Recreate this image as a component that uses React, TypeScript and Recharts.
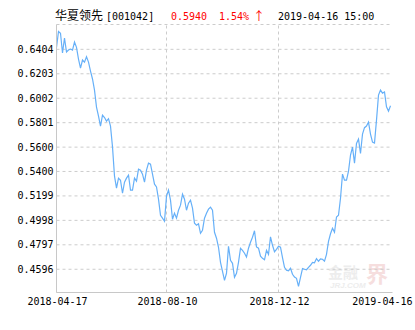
import { LineChart, Line, XAxis, YAxis, CartesianGrid, ReferenceLine } from "recharts";

// unit NAV, 2018-04-17 .. 2019-04-16 (sampled)
const nav = [
  0.642, 0.6551, 0.6536, 0.6374, 0.6497, 0.6382, 0.6398, 0.6406, 0.6398, 0.6464,
  0.642, 0.6324, 0.625, 0.6316, 0.6299, 0.6343, 0.6299, 0.6225, 0.616, 0.6069,
  0.5929, 0.5855, 0.5773, 0.5863, 0.5843, 0.5814, 0.5834, 0.5773, 0.5602, 0.5361,
  0.5263, 0.5345, 0.5328, 0.5221, 0.5312, 0.5345, 0.5369, 0.5246, 0.5246, 0.5345,
  0.532, 0.5419, 0.5411, 0.5378, 0.5312, 0.5411, 0.5468, 0.546, 0.5378, 0.5295,
  0.5273, 0.5172, 0.504, 0.5016, 0.4991, 0.5197, 0.5246, 0.5164, 0.5007, 0.5057,
  0.5016, 0.5081, 0.5123, 0.5213, 0.5172, 0.5081, 0.5139, 0.5164, 0.5098, 0.4974,
  0.4958, 0.497, 0.4892, 0.4917, 0.5016, 0.5057, 0.509, 0.5106, 0.5081, 0.49,
  0.4851, 0.4777, 0.4653, 0.4579, 0.4505, 0.4563, 0.4785, 0.467, 0.4645, 0.453,
  0.4563, 0.4653, 0.4769, 0.4752, 0.4728, 0.4697, 0.4769, 0.4818, 0.4859, 0.4913,
  0.4779, 0.4769, 0.4703, 0.4686, 0.4674, 0.4752, 0.4719, 0.4863, 0.4793, 0.474,
  0.476, 0.4785, 0.4777, 0.4691, 0.4612, 0.4588, 0.4584, 0.4604, 0.4555, 0.4532,
  0.4522, 0.4456, 0.453, 0.4602, 0.4596, 0.4592, 0.4612, 0.4629, 0.4653, 0.4649,
  0.4684, 0.4662, 0.4682, 0.4678, 0.4662, 0.4719, 0.4826, 0.4888, 0.4933, 0.49,
  0.5026, 0.504, 0.518, 0.5378, 0.5328, 0.5328, 0.5402, 0.5534, 0.56, 0.5468,
  0.563, 0.5666, 0.5548, 0.5707, 0.576, 0.5773, 0.5806, 0.5707, 0.5641, 0.5633,
  0.5822, 0.6028, 0.6069, 0.6044, 0.6053, 0.5932, 0.5896, 0.594,
];

const yTicks = [0.4596, 0.4797, 0.4998, 0.5199, 0.54, 0.56, 0.5801, 0.6002, 0.6203, 0.6404];
const xTickIndex = [0, 55, 111, 166];
const xTickLabels = ["2018-04-17", "2018-08-10", "2018-12-12", "2019-04-16"];

const fundName = "华夏领先";
const fundCode = "[001042]";
const lastValue = "0.5940";
const change = "1.54%";
const stamp = "2019-04-16 15:00";

const data = nav.map((v, i) => ({ i, v }));

const MONO = "'DejaVu Sans Mono', monospace";
const BORDER = "#c8c8c8";
const tickStyle = { fontFamily: MONO, fontSize: 10, fill: "#000" };

// last date label is pulled inside the frame, like the original
const DateTick = ({ x, y, payload, index }: any) => {
  const last = index === xTickIndex.length - 1;
  return (
    <text
      x={last ? x + 24 : x + 1}
      y={y}
      dy="0.71em"
      textAnchor={last ? "end" : "middle"}
      {...tickStyle}
    >
      {xTickLabels[xTickIndex.indexOf(payload.value)]}
    </text>
  );
};

export default function App() {
  return (
    <div style={{ position: "absolute", left: 0, top: 0, width: 415, height: 330, background: "#fff" }}>
      {/* watermark, sits under the chart */}
      <svg width={415} height={330} style={{ position: "absolute", left: 0, top: 0 }}>
        <text x={328} y={278} fontFamily="'Noto Sans CJK SC'" fontWeight={700} fontSize={15} fill="#ededed">
          金融
        </text>
        <text x={366} y={282} fontFamily="'Noto Sans CJK SC'" fontWeight={700} fontSize={22} fill="#f6dede">
          界
        </text>
        <text x={330} y={288} fontFamily="Arial, sans-serif" fontStyle="italic" fontWeight={700} fontSize={8} fill="#ededed">
          JRJ.COM
        </text>
      </svg>

      <svg width={415} height={30} style={{ position: "absolute", left: 0, top: 0 }}>
        <text x={55} y={20} fontFamily="'Noto Sans CJK SC'" fontSize={12} fill="#000">
          {fundName}
        </text>
        <text x={106} y={19.5} fontFamily={MONO} fontSize={10} fill="#000">
          {fundCode}
        </text>
        <text x={171} y={19.5} fontFamily={MONO} fontSize={10} fill="#f00">
          {lastValue}
        </text>
        <text x={219} y={19.5} fontFamily={MONO} fontSize={10} fill="#f00">
          {change}
        </text>
        <text x={253} y={20.5} fontFamily="'Noto Sans CJK SC'" fontSize={12} fill="#f00">
          ↑
        </text>
        <text x={278} y={19.5} fontFamily={MONO} fontSize={10} fill="#000">
          {stamp}
        </text>
      </svg>

      <div style={{ position: "absolute", left: 0, top: 0 }}>
        <LineChart
          width={415}
          height={330}
          data={data}
          margin={{ top: 24.5, right: 22.5, left: 0, bottom: 7.5 }}
        >
          <CartesianGrid vertical={false} stroke="#cccccc" strokeDasharray="3 3" />
          <ReferenceLine x={xTickIndex[1]} stroke="#cccccc" strokeDasharray="3 3" />
          <ReferenceLine x={xTickIndex[2]} stroke="#cccccc" strokeDasharray="3 3" />
          <XAxis
            dataKey="i"
            type="number"
            domain={[0, 168]}
            ticks={xTickIndex}
            interval={0}
            tick={<DateTick />}
            tickLine={false}
            tickSize={0}
            tickMargin={5}
            height={30}
            axisLine={{ stroke: BORDER }}
            allowDataOverflow
          />
          <XAxis
            xAxisId="top"
            orientation="top"
            dataKey="i"
            type="number"
            domain={[0, 168]}
            height={0}
            tick={false}
            tickLine={false}
            axisLine={{ stroke: BORDER }}
          />
          <YAxis
            domain={[0.4405, 0.6608]}
            ticks={yTicks}
            interval={0}
            tickFormatter={(v: number) => v.toFixed(4)}
            tick={tickStyle}
            tickLine={false}
            tickSize={0}
            tickMargin={3}
            width={56.5}
            axisLine={{ stroke: BORDER }}
            allowDataOverflow
          />
          <YAxis
            yAxisId="right"
            orientation="right"
            domain={[0.4405, 0.6608]}
            width={0}
            tick={false}
            tickLine={false}
            axisLine={{ stroke: BORDER }}
          />
          <Line
            type="linear"
            dataKey="v"
            stroke="#66b0f8"
            strokeWidth={1.2}
            dot={false}
            activeDot={false}
            isAnimationActive={false}
          />
        </LineChart>
      </div>
    </div>
  );
}
